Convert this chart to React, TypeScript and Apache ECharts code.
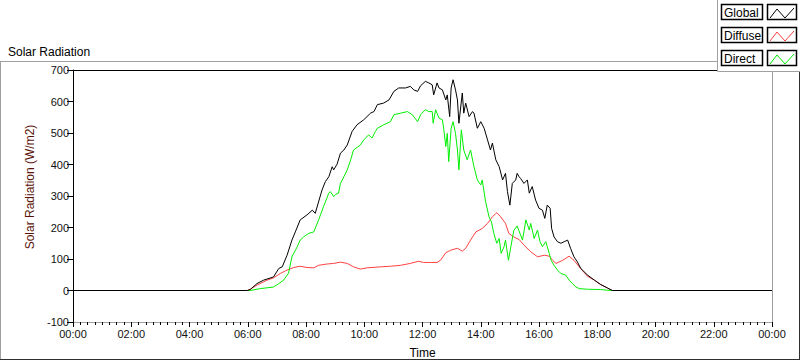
import React, { useEffect, useRef } from "react";
import * as echarts from "echarts";

// Time of day in minutes, and radiation values (W/m2)
const globalMinutes = [0,359,365,379,393,413,424,431,441,451,458,468,482,493,499,513,520,527,534,537,544,551,558,565,575,585,599,613,620,627,640,651,661,671,685,695,702,710,716,726,733,740,743,750,754,761,768,771,776,779,783,788,792,795,802,805,809,816,823,826,833,840,847,854,860,864,871,878,885,891,895,900,905,912,915,919,922,929,936,940,946,953,960,967,972,977,983,986,991,998,1005,1012,1019,1025,1032,1039,1046,1060,1074,1087,1101,1111,1440];
const globalValues = [0,0,3,22,33,43,70,75,112,160,186,224,240,255,245,319,346,361,393,383,401,436,446,462,505,526,542,563,568,590,595,605,632,643,643,648,637,632,650,664,659,653,621,659,643,637,605,621,552,643,669,637,605,531,627,563,595,552,568,563,515,536,515,478,446,468,415,393,351,372,314,271,340,351,372,361,356,340,351,309,330,287,261,255,229,271,261,197,170,155,150,155,160,134,107,91,70,49,33,19,8,0,0];

const directMinutes = [0,359,365,386,413,424,434,444,451,462,468,475,485,496,506,516,527,530,537,541,547,551,558,565,572,578,592,599,609,616,623,627,640,654,661,675,689,699,710,716,726,733,740,742,747,754,761,764,768,771,774,779,783,788,792,795,800,805,812,819,826,833,840,843,850,857,862,867,873,878,882,888,891,897,902,908,915,922,926,933,940,943,950,957,962,967,974,981,985,991,998,1005,1015,1022,1029,1036,1043,1060,1087,1108,1440];
const directValues = [0,0,0,6,11,22,33,55,107,139,160,170,181,186,224,266,309,314,298,305,309,340,361,383,415,446,462,478,494,484,505,515,526,536,558,563,568,558,536,558,574,568,568,531,574,547,542,510,457,499,409,515,536,499,446,383,510,446,415,446,393,351,335,351,282,234,218,181,150,165,118,139,160,96,139,190,205,176,160,224,192,213,165,192,155,139,155,118,96,80,65,54,49,33,22,11,6,4,3,0,0];

const diffuseMinutes = [0,359,365,379,400,413,427,441,455,468,482,496,506,523,537,551,565,578,592,606,633,654,675,695,712,722,736,750,757,768,778,792,802,809,819,830,843,854,864,873,881,891,898,908,919,929,943,957,971,981,988,995,1009,1022,1032,1043,1060,1074,1087,1101,1111,1440];
const diffuseValues = [0,0,4,17,33,40,54,65,73,77,73,72,80,84,86,90,86,75,68,72,75,77,80,86,93,89,89,89,96,120,128,134,125,134,160,186,197,213,234,247,234,213,181,170,162,144,123,107,112,109,96,86,96,109,96,75,45,33,19,8,0,0];

const legendNames = ["Global", "Diffuse", "Direct"];
const legendColors = ["#000000", "#ff4040", "#00ee00"];

const FONT = "Liberation Sans";

function pairs(mins: number[], vals: number[]) {
  return mins.map((m, i) => [m / 60, vals[i]]);
}

export default function App() {
  const ref = useRef<HTMLDivElement>(null);
  useEffect(() => {
    if (!ref.current) return;
    const chart = echarts.init(ref.current, null, { renderer: "svg" });

    const legendGraphics: any[] = [
      {
        type: "rect",
        shape: { x: 717.5, y: -2, width: 90, height: 73.5 },
        style: { fill: "#ffffff", stroke: "#a0a0a0", lineWidth: 1 },
        z: 100,
      },
    ];
    legendNames.forEach((name, i) => {
      const y = 4 + i * 23;
      legendGraphics.push({
        type: "rect",
        shape: { x: 721.5, y: y + 0.5, width: 41, height: 15 },
        style: { fill: "#ffffff", stroke: "#000", lineWidth: 1.5 },
        z: 101,
      });
      legendGraphics.push({
        type: "text",
        x: 724,
        y: y + 8.5,
        style: { text: name, fill: "#000", font: `12px "${FONT}"`, textVerticalAlign: "middle" },
        z: 102,
      });
      legendGraphics.push({
        type: "rect",
        shape: { x: 767.5, y: y + 0.5, width: 29, height: 15 },
        style: { fill: "#ffffff", stroke: "#000", lineWidth: 1.5 },
        z: 101,
      });
      legendGraphics.push({
        type: "polyline",
        shape: { points: [[770, y + 14], [777, y + 5], [785, y + 14], [794, y + 4]] },
        style: { stroke: legendColors[i], lineWidth: 1, fill: "none" },
        z: 102,
      });
    });

    const frame: any[] = [
      { type: "line", shape: { x1: 0, y1: 61.5, x2: 718, y2: 61.5 }, style: { stroke: "#a0a0a0", lineWidth: 1 }, z: 90 },
      { type: "line", shape: { x1: 0.5, y1: 61, x2: 0.5, y2: 360 }, style: { stroke: "#a0a0a0", lineWidth: 1 }, z: 90 },
      { type: "line", shape: { x1: 0, y1: 359.5, x2: 800, y2: 359.5 }, style: { stroke: "#303030", lineWidth: 1 }, z: 90 },
      { type: "line", shape: { x1: 799.5, y1: 70, x2: 799.5, y2: 360 }, style: { stroke: "#303030", lineWidth: 1 }, z: 90 },
    ];

    const pad = (n: number) => String(n).padStart(2, "0");

    chart.setOption({
      animation: false,
      backgroundColor: "#ffffff",
      textStyle: { fontFamily: FONT },
      title: {
        text: "Solar Radiation",
        left: 3,
        top: 41,
        textStyle: { fontSize: 12, fontWeight: "normal", color: "#000", fontFamily: FONT },
      },
      grid: { left: 73, right: 28, top: 70, bottom: 39, containLabel: false, outerBoundsMode: "none" },
      xAxis: [
        {
          type: "value",
          min: 0,
          max: 24,
          interval: 2,
          position: "bottom",
          axisLine: { show: true, onZero: false, lineStyle: { color: "#a0a0a0", width: 1 } },
          axisTick: { show: true, inside: false, length: 5, lineStyle: { color: "#000" } },
          minorTick: { show: true, splitNumber: 8, length: 3, lineStyle: { color: "#000" } },
          axisLabel: {
            formatter: (v: number) => pad(Math.round(v) % 24) + ":00",
            margin: 6,
            fontSize: 11,
            color: "#111",
            fontFamily: FONT,
          },
          splitLine: { show: false },
          name: "Time",
          nameLocation: "middle",
          nameGap: 25,
          nameTextStyle: { fontSize: 12, color: "#000", fontFamily: FONT },
        },
        {
          type: "value",
          min: 0,
          max: 24,
          position: "top",
          axisLine: { show: true, onZero: false, lineStyle: { color: "#000", width: 1 } },
          axisTick: { show: false },
          axisLabel: { show: false },
          splitLine: { show: false },
        },
      ],
      yAxis: [
        {
          type: "value",
          min: -100,
          max: 700,
          interval: 100,
          position: "left",
          axisLine: { show: true, onZero: false, lineStyle: { color: "#000", width: 1 } },
          axisTick: { show: true, inside: false, length: 6, lineStyle: { color: "#000" } },
          axisLabel: { margin: 4, fontSize: 11, color: "#111", fontFamily: FONT },
          splitLine: { show: false },
          name: "Solar Radiation (W/m2)",
          nameLocation: "middle",
          nameGap: 36,
          nameTextStyle: { fontSize: 12, color: "#5a1208", fontFamily: FONT, padding: [0, 0, 0, 18] },
        },
        {
          type: "value",
          min: -100,
          max: 700,
          position: "right",
          axisLine: { show: true, onZero: false, lineStyle: { color: "#a0a0a0", width: 1 } },
          axisTick: { show: false },
          axisLabel: { show: false },
          splitLine: { show: false },
        },
      ],
      series: [
        {
          name: "Diffuse",
          type: "line",
          data: pairs(diffuseMinutes, diffuseValues),
          showSymbol: false,
          lineStyle: { color: legendColors[1], width: 1 },
          itemStyle: { color: legendColors[1] },
        },
        {
          name: "Direct",
          type: "line",
          data: pairs(directMinutes, directValues),
          showSymbol: false,
          lineStyle: { color: legendColors[2], width: 1 },
          itemStyle: { color: legendColors[2] },
        },
        {
          name: "Global",
          type: "line",
          data: pairs(globalMinutes, globalValues),
          showSymbol: false,
          lineStyle: { color: legendColors[0], width: 1 },
          itemStyle: { color: legendColors[0] },
        },
      ],
      graphic: [...frame, ...legendGraphics],
    });
    return () => chart.dispose();
  }, []);
  return (
    <div
      ref={ref}
      style={{ position: "absolute", left: 0, top: 0, width: 800, height: 361 }}
    />
  );
}
